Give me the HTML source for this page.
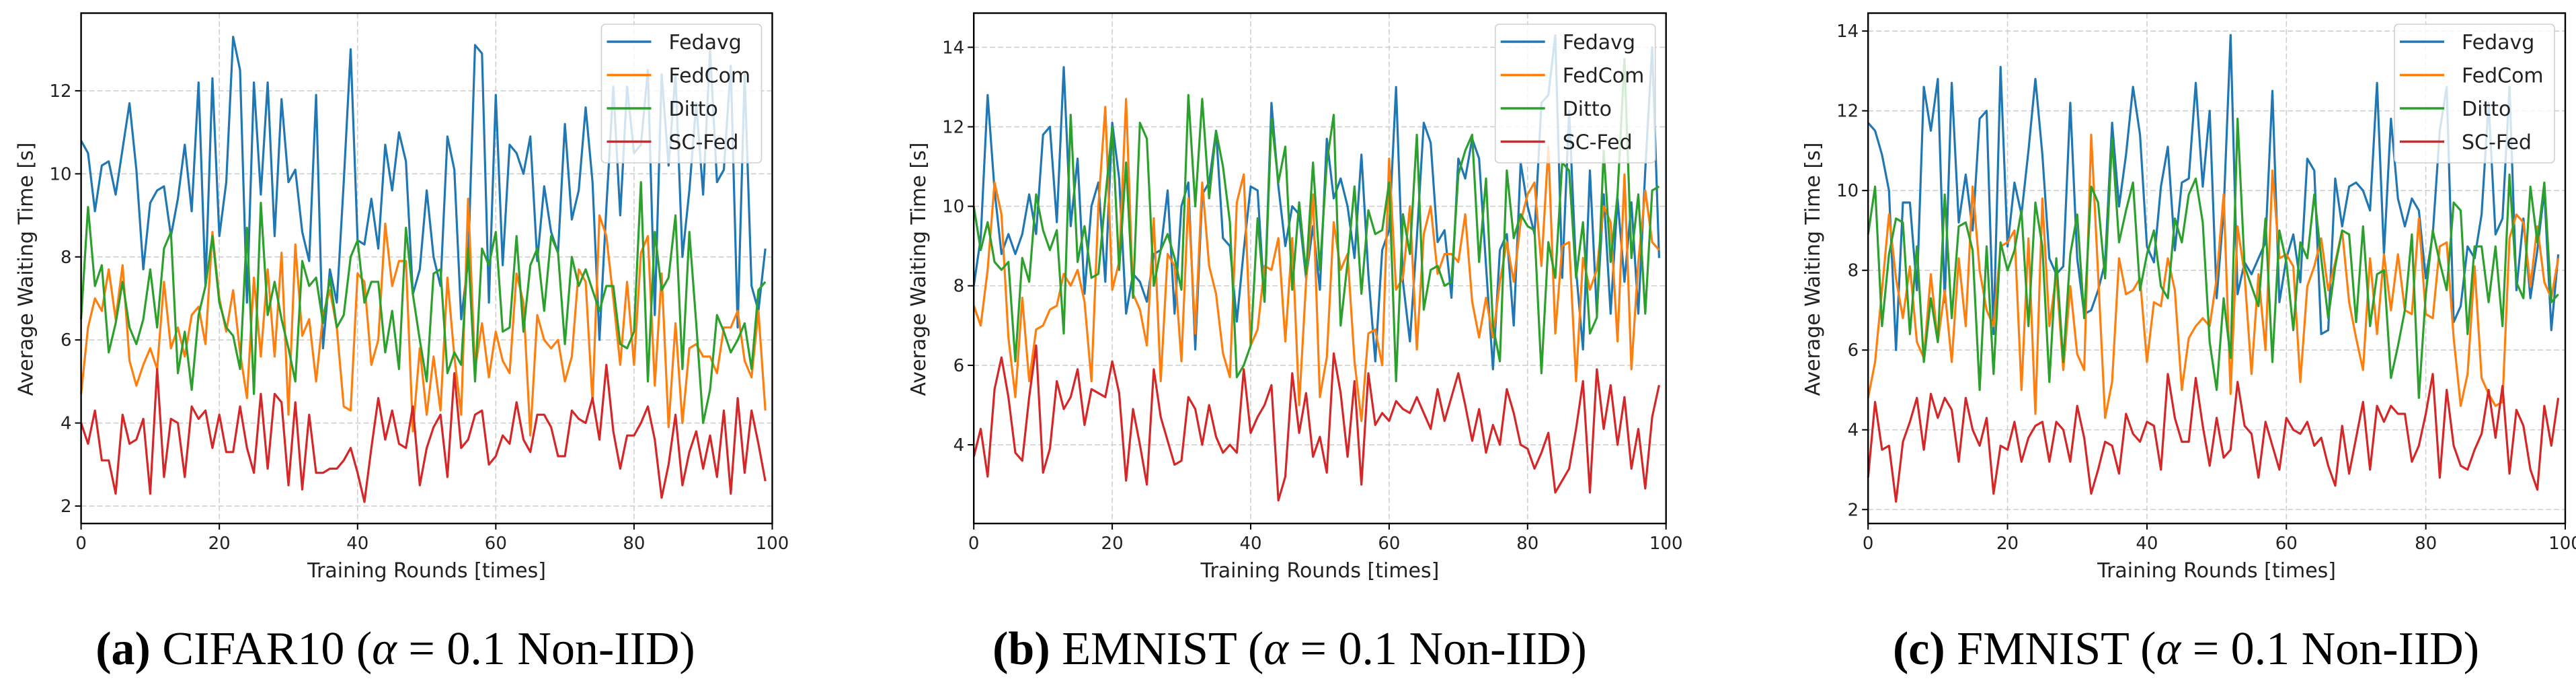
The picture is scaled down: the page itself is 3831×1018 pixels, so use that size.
<!DOCTYPE html>
<html><head><meta charset="utf-8">
<style>
html,body{margin:0;padding:0;background:#fff;}
svg{display:block;}
text{font-family:"DejaVu Sans","Liberation Sans",sans-serif;}
.cap{font-family:"Liberation Serif",serif;}
</style></head>
<body>
<svg id="fig" width="3831" height="1018" xmlns="http://www.w3.org/2000/svg"></svg>
<script>
const seriesNames = ["Fedavg","FedCom","Ditto","SC-Fed"];
const seriesColors = ["#1f77b4","#ff7f0e","#2ca02c","#d62728"];
const xTicks = [0,20,40,60,80,100];

const aFedavg = [10.8,10.5,9.1,10.2,10.3,9.5,10.6,11.7,10.1,7.7,9.3,9.6,9.7,8.5,9.4,10.7,9.1,12.2,7.3,12.3,8.5,9.8,13.3,12.5,6.9,12.2,9.5,12.2,8.5,11.8,9.8,10.1,8.6,7.9,11.9,5.8,7.7,6.9,9.8,13.0,8.4,8.3,9.4,8.2,10.7,9.6,11.0,10.3,7.1,7.7,9.6,8.0,7.3,10.9,10.1,6.5,7.9,13.1,12.9,6.9,11.9,7.8,10.7,10.5,10.0,10.9,7.9,9.7,8.6,8.1,11.2,8.9,9.6,11.6,9.8,6.0,9.2,12.1,9.0,12.1,10.5,10.7,12.5,6.6,12.4,10.2,12.4,8.0,9.6,11.7,9.5,13.0,9.8,10.1,12.6,6.3,12.4,7.3,6.7,8.2];
const aFedCom = [4.7,6.3,7.0,6.7,7.7,6.5,7.8,5.5,4.9,5.4,5.8,5.3,7.4,5.8,6.3,5.6,6.6,6.8,5.9,8.6,7.0,6.2,7.2,5.7,4.6,7.5,5.6,7.7,5.6,8.1,4.2,8.3,6.1,6.5,5.0,6.6,7.2,6.3,4.4,4.3,7.6,7.4,5.4,6.0,8.8,7.3,7.9,7.9,3.8,5.8,4.2,5.6,4.3,7.5,5.6,4.2,9.4,5.3,6.4,5.1,6.2,5.5,5.2,7.6,6.9,3.7,6.6,6.0,5.8,6.0,5.0,5.6,7.7,7.4,4.5,9.0,8.5,7.0,5.4,7.4,5.4,8.1,8.5,4.9,7.6,3.9,6.4,4.0,5.8,5.9,5.6,5.6,5.2,6.3,6.3,6.7,5.5,5.1,6.7,4.3];
const aDitto = [6.5,9.2,7.3,7.8,5.7,6.4,7.4,6.3,5.9,6.5,7.7,6.3,8.2,8.6,5.2,6.2,4.8,6.6,7.3,8.5,6.9,6.3,6.1,5.3,8.7,4.7,9.3,6.6,7.4,6.5,5.8,5.0,7.9,7.3,7.5,6.4,7.5,6.3,6.6,8.0,8.4,6.9,7.4,7.4,5.7,6.7,5.3,8.7,7.1,6.0,5.0,7.6,7.7,5.2,5.7,5.4,8.2,5.0,8.2,7.8,8.6,6.2,6.3,8.5,6.2,7.8,8.2,6.7,8.5,8.1,5.9,8.0,7.3,7.7,7.2,6.7,7.3,7.3,5.9,5.8,6.2,9.8,5.0,8.6,7.2,7.5,9.0,5.3,8.6,6.4,4.0,4.8,6.6,6.2,5.7,6.0,6.4,5.3,7.2,7.4];
const aSCFed = [4.0,3.5,4.3,3.1,3.1,2.3,4.2,3.5,3.6,4.1,2.3,5.3,2.7,4.1,4.0,2.7,4.4,4.1,4.3,3.4,4.2,3.3,3.3,4.4,3.4,2.8,4.7,2.9,4.7,4.5,2.5,4.5,2.4,4.2,2.8,2.8,2.9,2.9,3.1,3.4,2.8,2.1,3.4,4.6,3.6,4.3,3.5,3.4,4.4,2.5,3.4,3.9,4.2,2.7,5.2,3.4,3.6,4.2,4.3,3.0,3.2,3.7,3.5,4.5,3.6,3.3,4.2,4.2,3.9,3.2,3.2,4.3,4.1,4.0,4.6,3.6,5.4,3.8,2.9,3.7,3.7,4.0,4.4,3.6,2.2,3.0,4.2,2.5,3.3,3.8,2.9,3.7,2.7,4.3,2.3,4.6,2.8,4.3,3.5,2.6];

const bFedavg = [8.0,9.2,12.8,10.4,8.8,9.3,8.8,9.3,10.3,9.3,11.8,12.0,9.6,13.5,9.5,11.2,7.8,10.0,10.6,8.1,12.1,10.7,7.3,8.3,8.1,7.6,8.8,8.9,10.4,7.3,10.0,10.6,6.4,10.3,10.6,11.9,9.2,9.0,7.1,8.9,10.5,10.4,7.6,12.6,10.5,9.0,10.0,9.8,8.2,9.5,7.9,11.7,10.2,10.7,10.0,8.7,11.3,8.3,6.1,8.9,9.4,13.0,8.1,6.6,9.2,12.1,11.6,9.1,9.4,7.7,11.2,10.7,11.7,11.2,8.5,5.9,8.9,9.3,7.0,11.1,10.0,9.3,12.6,12.8,14.3,8.2,12.4,8.4,6.4,10.9,7.3,10.3,7.3,10.2,8.1,10.1,7.3,10.9,14.0,8.7];
const bFedCom = [7.5,7.0,8.4,10.6,9.8,6.7,5.2,7.7,5.6,6.9,7.0,7.4,7.5,8.3,8.0,8.4,7.6,5.6,10.0,12.5,7.9,8.6,12.7,7.8,7.4,6.5,9.7,5.6,8.8,8.5,6.1,10.2,6.8,10.6,8.5,7.8,6.3,5.7,10.1,10.8,6.5,6.9,8.5,8.4,9.2,6.6,9.2,5.0,8.1,10.3,5.2,6.2,9.6,8.4,8.8,6.1,4.6,6.8,6.9,6.0,11.2,7.9,8.2,10.0,6.4,9.3,10.0,8.3,8.8,8.8,8.6,9.8,7.6,6.7,7.7,6.7,8.1,9.1,8.1,9.6,10.3,10.6,8.5,11.5,6.8,9.0,9.1,5.6,8.7,7.9,8.4,10.0,9.6,6.6,10.8,5.9,8.6,10.4,9.1,8.9];
const bDitto = [10.0,8.9,9.6,8.6,8.4,8.6,6.1,8.7,8.1,10.3,9.4,8.9,9.4,6.8,12.3,8.6,9.5,8.2,8.3,10.2,12.0,8.4,11.1,7.7,12.1,11.7,8.0,8.9,9.3,8.7,7.9,12.8,10.0,12.7,10.2,11.9,11.0,9.6,5.7,6.0,6.5,9.7,7.6,12.2,10.6,11.5,7.9,10.1,8.3,11.1,8.4,11.1,12.3,7.0,8.6,10.5,7.8,9.9,9.3,9.4,10.6,5.6,9.8,8.8,11.8,7.4,8.4,8.5,8.0,8.1,10.8,11.4,11.8,8.6,10.7,7.0,6.1,10.9,9.2,9.8,9.5,9.4,5.8,9.1,8.2,11.1,10.9,8.2,9.6,6.8,7.2,11.4,8.6,10.3,13.7,8.7,10.3,7.3,10.4,10.5];
const bSCFed = [3.7,4.4,3.2,5.4,6.2,5.2,3.8,3.6,5.2,6.5,3.3,3.9,5.6,4.9,5.2,5.9,4.5,5.4,5.3,5.2,6.1,5.3,3.1,4.9,4.0,3.0,5.9,4.7,4.1,3.5,3.6,5.2,4.9,4.0,5.0,4.2,3.8,4.0,3.8,5.9,4.3,4.7,5.0,5.5,2.6,3.2,5.8,4.3,5.3,3.7,4.2,3.3,6.3,5.3,3.7,5.6,3.0,5.8,4.5,4.8,4.6,5.1,4.9,4.8,5.2,4.8,4.4,5.4,4.6,5.2,5.8,5.0,4.1,4.9,3.8,4.5,4.0,5.4,4.8,4.0,3.9,3.4,3.8,4.3,2.8,3.1,3.4,4.4,5.6,2.8,5.9,4.4,5.5,4.0,5.2,3.4,4.4,2.9,4.7,5.5];

const cFedavg = [11.7,11.5,10.9,10.0,6.0,9.7,9.7,7.5,12.6,11.5,12.8,7.2,12.7,9.2,10.4,9.0,11.8,12.0,6.4,13.1,8.6,10.2,9.4,11.0,12.8,10.9,8.3,7.9,8.1,12.2,8.3,6.9,7.0,7.5,8.2,11.7,9.6,10.9,12.6,11.4,8.6,8.2,10.1,11.1,8.5,10.2,10.3,12.7,10.1,12.0,7.3,9.5,13.9,7.4,8.2,7.9,8.3,8.7,12.5,7.2,8.3,8.9,7.7,10.8,10.5,6.4,6.5,10.3,9.1,10.1,10.2,10.0,9.5,12.7,8.4,11.8,9.8,9.1,9.8,9.5,7.8,8.9,11.5,12.6,6.7,7.1,8.6,8.3,9.4,12.2,8.9,9.3,12.6,7.5,9.3,7.3,8.5,10.0,6.5,8.4];
const cFedCom = [4.8,5.7,7.5,9.4,7.8,6.8,8.1,6.2,5.8,7.9,6.2,7.5,5.7,8.3,6.6,10.1,8.0,7.0,6.6,8.6,8.7,9.0,5.0,8.8,4.4,9.8,6.6,7.9,5.5,7.6,5.9,5.5,11.4,7.9,4.3,5.2,8.3,7.4,7.5,7.8,5.7,7.2,7.1,8.3,7.5,5.0,6.3,6.6,6.8,6.6,7.8,9.9,4.9,9.1,7.9,5.4,7.9,6.0,10.5,8.3,8.4,8.1,5.2,7.6,8.1,8.8,7.5,8.2,9.0,7.2,6.3,5.5,8.3,6.4,8.4,7.0,8.4,7.0,6.9,9.3,6.9,6.8,8.6,8.7,6.3,4.6,5.4,8.1,5.3,4.9,4.6,4.7,8.8,9.4,9.2,7.6,9.1,7.7,7.3,8.3];
const cDitto = [8.9,10.1,6.6,8.4,9.3,9.2,6.4,8.6,5.7,7.3,6.2,9.9,6.8,9.1,9.2,8.5,5.0,8.6,5.4,8.7,8.0,8.5,9.5,6.6,9.7,8.6,5.2,8.3,5.7,8.4,9.4,6.8,10.1,9.7,7.8,11.3,8.7,9.5,10.2,7.5,8.4,9.0,7.6,7.3,9.3,8.7,9.9,10.3,9.2,6.2,5.0,7.3,5.8,11.8,8.1,7.6,7.1,9.3,5.7,9.0,8.2,6.5,8.7,8.3,9.9,8.3,6.8,8.1,9.0,8.9,6.7,9.1,6.6,7.9,8.0,5.3,6.1,7.0,8.9,4.8,7.4,9.0,8.2,7.5,9.7,9.5,6.4,8.6,8.6,7.2,8.6,6.6,10.4,7.7,7.3,10.1,8.7,10.2,7.2,7.4];
const cSCFed = [2.8,4.7,3.5,3.6,2.2,3.7,4.2,4.8,3.5,4.9,4.3,4.8,4.5,3.2,4.8,4.0,3.6,4.3,2.4,3.6,3.5,4.2,3.2,3.8,4.1,4.2,3.2,4.2,4.0,3.2,4.6,3.8,2.4,3.0,3.7,3.6,2.9,4.4,3.9,3.7,4.2,4.1,3.0,5.4,4.3,3.7,3.7,5.3,4.1,3.1,4.3,3.3,3.5,5.2,4.1,3.9,2.8,4.2,3.6,3.0,4.3,4.0,3.9,4.2,3.6,3.8,3.1,2.6,4.1,2.9,3.8,4.7,3.0,4.6,4.2,4.6,4.4,4.4,3.2,3.6,4.4,5.4,2.8,5.0,3.6,3.1,3.0,3.5,3.9,5.0,3.8,5.1,2.9,4.5,4.1,3.0,2.5,4.6,3.6,4.8];

const aYTicks = [2,4,6,8,10,12];
const bYTicks = [4,6,8,10,12,14];
const cYTicks = [2,4,6,8,10,12,14];
const aYLim = [1.58,13.87];
const bYLim = [2.02,14.86];
const cYLim = [1.65,14.45];

const NS = "http://www.w3.org/2000/svg";
const svg = document.getElementById("fig");
function el(tag, attrs, parent){
  const e = document.createElementNS(NS, tag);
  for (const k in attrs) e.setAttribute(k, attrs[k]);
  (parent||svg).appendChild(e);
  return e;
}

const panels = [
  {key:"a", L:120.6, R:1148.5, ylim:aYLim, yticks:aYTicks, series:[aFedavg,aFedCom,aDitto,aSCFed], capX:588, capBold:"(a)", capRest:" CIFAR10 (", capTail:" = 0.1 Non-IID)"},
  {key:"b", L:1448.2, R:2477.7, ylim:bYLim, yticks:bYTicks, series:[bFedavg,bFedCom,bDitto,bSCFed], capX:1918, capBold:"(b)", capRest:" EMNIST (", capTail:" = 0.1 Non-IID)"},
  {key:"c", L:2778.2, R:3815, ylim:cYLim, yticks:cYTicks, series:[cFedavg,cFedCom,cDitto,cSCFed], capX:3251, capBold:"(c)", capRest:" FMNIST (", capTail:" = 0.1 Non-IID)"}
];
const T = 19.5, B = 778;

panels.forEach(p => {
  const g = el("g", {});
  
  
  const xs = v => p.L + (v - 0) / 100 * (p.R - p.L);
  const ys = v => B - (v - p.ylim[0]) / (p.ylim[1] - p.ylim[0]) * (B - T);

  xTicks.forEach(t => {
    const l = el("line", {x1:xs(t), x2:xs(t), y1:T, y2:B, stroke:"#cfcfcf", "stroke-width":1.6, "stroke-dasharray":"8,4"}, g);
    
    
  });
  p.yticks.forEach(t => {
    const l = el("line", {x1:p.L, x2:p.R, y1:ys(t), y2:ys(t), stroke:"#cfcfcf", "stroke-width":1.6, "stroke-dasharray":"8,4"}, g);
    
    
  });

  p.series.forEach((arr, i) => {
    const pts = arr.map((v, j) => xs(j).toFixed(1) + "," + ys(v).toFixed(1)).join(" ");
    const pl = el("polyline", {points:pts, fill:"none", stroke:seriesColors[i], "stroke-width":3.2, "stroke-linejoin":"round"}, g);
    
    
  });

  const fr = el("rect", {x:p.L, y:T, width:p.R-p.L, height:B-T, fill:"none", stroke:"#000", "stroke-width":2.4}, g);
  
  

  xTicks.forEach(t => {
    el("line", {x1:xs(t), x2:xs(t), y1:B, y2:B+9, stroke:"#000", "stroke-width":2}, g);
    const tx = el("text", {x:xs(t), y:B+38, "text-anchor":"middle", "font-size":26, fill:"#222"}, g);
    tx.textContent = t;
    
    
  });
  p.yticks.forEach(t => {
    el("line", {x1:p.L-9, x2:p.L, y1:ys(t), y2:ys(t), stroke:"#000", "stroke-width":2}, g);
    const tx = el("text", {x:p.L-14, y:ys(t)+9, "text-anchor":"end", "font-size":26, fill:"#222"}, g);
    tx.textContent = t;
    
    
  });

  const xl = el("text", {x:(p.L+p.R)/2, y:858, "text-anchor":"middle", "font-size":30, fill:"#222"}, g);
  xl.textContent = "Training Rounds [times]";
  
  
  const yx = p.L - 72, yc = 400;
  const yl = el("text", {x:yx, y:yc, "text-anchor":"middle", "font-size":30, fill:"#222", transform:"rotate(-90 "+yx+" "+yc+")"}, g);
  yl.textContent = "Average Waiting Time [s]";
  
  

  const lg = el("g", {}, g);
  
  
  const lx = p.R - 254, ly = 36;
  el("rect", {x:lx, y:ly, width:238, height:206, rx:6, fill:"#fff", "fill-opacity":0.8, stroke:"#d0d0d0", "stroke-width":1.6}, lg);
  seriesNames.forEach((n, i) => {
    const yy = 62 + i*49.5;
    el("line", {x1:lx+8, x2:lx+74, y1:yy, y2:yy, stroke:seriesColors[i], "stroke-width":3.5}, lg);
    const t = el("text", {x:lx+100, y:yy+11, "font-size":30, fill:"#222"}, lg);
    t.textContent = n;
    
    
  });

  const cap = el("text", {x:p.capX, y:987, "text-anchor":"middle", "font-size":70, fill:"#000", class:"cap"}, g);
  
  
  const s1 = el("tspan", {"font-weight":"bold"}, cap); s1.textContent = p.capBold;
  const s2 = el("tspan", {}, cap); s2.textContent = p.capRest;
  const s3 = el("tspan", {"font-style":"italic"}, cap); s3.textContent = "α";
  const s4 = el("tspan", {}, cap); s4.textContent = p.capTail;
});
</script>
</body></html>
